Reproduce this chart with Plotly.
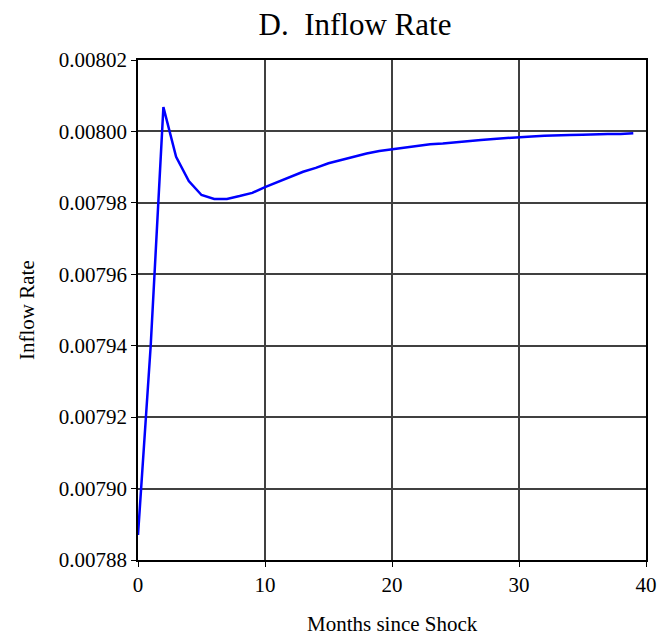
import plotly.graph_objects as go

months = list(range(0, 40))
inflow_rate = [
    0.007887, 0.007940, 0.0080068, 0.0079929, 0.0079861, 0.0079822, 0.0079811, 0.0079811,
    0.0079819, 0.0079828, 0.0079844, 0.0079858, 0.0079873, 0.0079887, 0.0079898, 0.0079911,
    0.0079920, 0.0079930, 0.0079938, 0.0079945, 0.0079950, 0.0079955, 0.0079960, 0.0079964,
    0.0079966, 0.0079970, 0.0079973, 0.0079976, 0.0079979, 0.0079982, 0.0079985, 0.0079986,
    0.0079988, 0.0079990, 0.0079990, 0.0079991, 0.0079993, 0.0079993, 0.0079993, 0.0079995,
]
x_ticks = [0, 10, 20, 30, 40]
y_ticks = [0.00788, 0.00790, 0.00792, 0.00794, 0.00796, 0.00798, 0.00800, 0.00802]
y_tick_labels = ["0.00788", "0.00790", "0.00792", "0.00794", "0.00796", "0.00798", "0.00800", "0.00802"]

font_family = "Liberation Serif, Times New Roman, serif"

fig = go.Figure()
fig.add_trace(go.Scatter(
    x=months, y=inflow_rate, mode="lines",
    line=dict(color="#0000ff", width=2.5),
    showlegend=False, hoverinfo="skip",
))

fig.update_layout(
    width=660, height=637,
    margin=dict(l=138, r=14, t=60, b=77, autoexpand=False),
    paper_bgcolor="white", plot_bgcolor="white",
    font=dict(family=font_family, size=21, color="black"),
    title=dict(text="D.  Inflow Rate", x=355 / 660, xanchor="center", xref="container",
               y=1 - 24 / 637, yref="container", yanchor="middle",
               font=dict(family=font_family, size=31, color="black")),
    annotations=[
        dict(text="Months since Shock", xref="paper", yref="paper", x=0.5, y=0,
             xanchor="center", yanchor="middle", yshift=-64, showarrow=False,
             font=dict(family=font_family, size=21, color="black")),
        dict(text="Inflow Rate", xref="paper", yref="paper", x=0, y=0.5,
             xanchor="center", yanchor="middle", xshift=-111, textangle=-90, showarrow=False,
             font=dict(family=font_family, size=21, color="black")),
    ],
)
fig.update_xaxes(
    range=[0, 40], tickvals=x_ticks, ticktext=[str(v) for v in x_ticks],
    showgrid=True, gridcolor="#404040", gridwidth=1.5,
    showline=True, linecolor="black", linewidth=1.5, mirror=True,
    ticks="outside", ticklen=5, tickcolor="black",
    zeroline=False, automargin=False,
    tickfont=dict(family=font_family, size=21),
)
fig.update_yaxes(
    range=[0.00788, 0.00802], tickvals=y_ticks, ticktext=y_tick_labels,
    showgrid=True, gridcolor="#404040", gridwidth=1.5,
    showline=True, linecolor="black", linewidth=1.5, mirror=True,
    ticks="outside", ticklen=5, tickcolor="black",
    zeroline=False, automargin=False,
    tickfont=dict(family=font_family, size=21),
)

fig.write_html(
    "out.html",
    config={"displayModeBar": False},
    post_script="document.body.style.margin='0';document.body.style.overflow='hidden';",
)
